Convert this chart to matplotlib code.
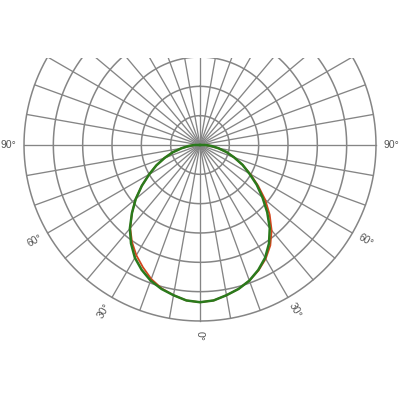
import numpy as np
import matplotlib
matplotlib.use("Agg")
import matplotlib.pyplot as plt

# Angles (degrees from nadir, positive = right side)
angles = [-90, -85, -80, -75, -70, -65, -60, -55, -50, -45, -40, -35, -30, -25, -20, -15, -10, -5,
          0, 5, 10, 15, 20, 25, 30, 35, 40, 45, 50, 55, 60, 65, 70, 75, 80, 85, 90]

# Intensity of C90-C270 plane (green)
green_vals = [10, 20, 32, 48, 64, 82, 100, 121, 143, 164, 186, 205, 222, 235, 246, 254, 260, 266,
              268, 266, 260, 254, 246, 235, 222, 205, 185, 162, 139, 118, 97, 80, 62, 47, 32, 20, 10]

# Intensity of C0-C180 plane (red)
red_vals = [10, 20, 32, 48, 64, 82, 100, 121, 143, 164, 185, 202, 217, 230, 243, 253, 260, 266,
            268, 266, 260, 254, 246, 236, 224, 209, 190, 168, 145, 121, 99, 80, 62, 47, 32, 20, 10]

ring_values = [50, 100, 150, 200, 250, 300]
spoke_angles = list(range(0, 360, 10))
label_angles = [-90, -60, -30, 0, 30, 60, 90]
label_texts = ["90°", "60°", "30°", "0°", "30°", "60°", "90°"]

rmax = 300
grid_color = "#858585"

fig = plt.figure(figsize=(4, 4), dpi=100)
k = 176 / 300.0  # px per unit
cx, cy = 200, 145
left_px = cx - 305 * k
right_px = cx + 305 * k
top_px = 58
bottom_px = cy + 305 * k
ytop = (cy - top_px) / k
ax = fig.add_axes([left_px / 400, (400 - bottom_px) / 400,
                   (right_px - left_px) / 400, (bottom_px - top_px) / 400])
ax.set_xlim(-305, 305)
ax.set_ylim(-305, ytop)
ax.axis("off")

t = np.linspace(0, 2 * np.pi, 721)
for rv in ring_values:
    ax.plot(rv * np.sin(t), rv * np.cos(t), color=grid_color, lw=1.1, zorder=1)
for a in spoke_angles:
    ar = np.radians(a)
    ax.plot([0, rmax * np.sin(ar)], [0, -rmax * np.cos(ar)], color=grid_color, lw=0.95, zorder=1)


def to_xy(angs, vals):
    th = np.radians(np.array(angs, dtype=float))
    r = np.array(vals, dtype=float)
    x = r * np.sin(th)
    y = -r * np.cos(th)
    # close through the centre
    x = np.concatenate([[0], x, [0]])
    y = np.concatenate([[0], y, [0]])
    return x, y

xr, yr = to_xy(angles, red_vals)
ax.plot(xr, yr, color="#d2461e", lw=1.3, zorder=3, solid_joinstyle="round")
xg, yg = to_xy(angles, green_vals)
ax.plot(xg, yg, color="#2a7a1c", lw=1.8, zorder=4, solid_joinstyle="round")

for a, s in zip(label_angles, label_texts):
    ar = np.radians(a)
    rl = 326
    if abs(a) == 90:
        rot = 0
    elif a >= 0:
        rot = -(90 - a)
    else:
        rot = 90 + a
    ax.text(rl * np.sin(ar), -rl * np.cos(ar), s, fontsize=7.5, color="#555555",
            family=["Liberation Sans", "DejaVu Sans"],
            ha="center", va="center", rotation=rot, rotation_mode="anchor", clip_on=False)

fig.savefig("out.png", dpi=100, facecolor="white")
